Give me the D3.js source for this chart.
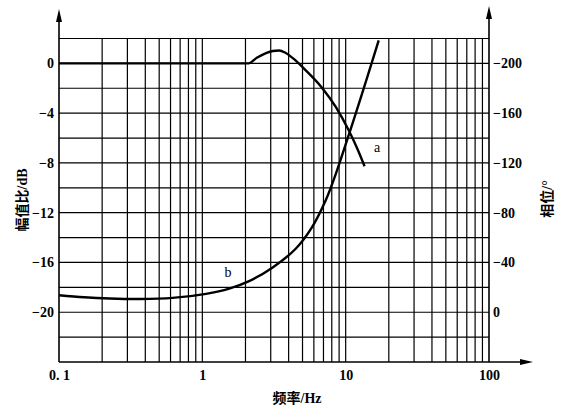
<!DOCTYPE html>
<html><head><meta charset="utf-8">
<script src="https://cdn.jsdelivr.net/npm/d3@7"></script>
<style>body{margin:0;background:#fff}svg{display:block}</style>
</head><body>
<svg id="c" width="574" height="416"></svg>
<script>
// ---- data ----
const freqA = [0.1, 1, 2.1, 2.4, 2.78, 3.1, 3.43, 3.8, 4.3, 5.27, 6.81, 8.53, 10.5, 12, 13.55];
const ampA  = [0,   0, 0,   0.45, 0.83, 1.0, 1.04, 0.85, 0.4, -0.56, -1.93, -3.5, -5.38, -6.8, -8.27];
const freqB  = [0.1, 0.15, 0.226, 0.366, 0.62, 1.06, 1.54, 2.12, 3.06, 4.48, 5.8, 7.26, 8.5, 10.5, 12.9, 17];
const phaseB = [-13.7, -12, -11, -10.6, -11.5, -14.8, -19, -25, -35.6, -51, -68, -90, -110.6, -142.4, -174.2, -218.5];
const xTicks = [0.1, 1, 10, 100];
const xTickLabels = ["0. 1", "1", "10", "100"];
const yLeftTicks = [0, -4, -8, -12, -16, -20];
const yRightTicks = [-200, -160, -120, -80, -40, 0];
const labels = {x: "频率/Hz", yLeft: "幅值比/dB", yRight: "相位/°"};

// ---- scales ----
const svg = d3.select("#c");
const x = d3.scaleLog().domain([0.1, 100]).range([59, 489]);
const y = d3.scaleLinear().domain([-24, 2]).range([362, 38.5]);
const yR = d3.scaleLinear().domain([0, -200]).range([y(-20), y(0)]);

const numFont = "'Liberation Serif', 'Times New Roman', serif";
const cjkFont = "'Liberation Serif', 'Noto Sans CJK SC', serif";

// ---- grid ----
const g = svg.append("g").attr("stroke", "#000").attr("stroke-width", 1.2);
const vLines = [];
[-1, 0, 1].forEach(k => { for (let m = 1; m <= 9; m++) vLines.push(m * Math.pow(10, k)); });
vLines.filter(f => f > 0.1).forEach(f => {
  g.append("line").attr("x1", x(f)).attr("x2", x(f)).attr("y1", y(-24)).attr("y2", y(2));
});
d3.range(-22, 3, 2).forEach(v => {
  g.append("line").attr("x1", x(0.1)).attr("x2", x(100)).attr("y1", y(v)).attr("y2", y(v));
});

// ---- axes lines with arrows ----
const ax = svg.append("g").attr("stroke", "#000").attr("stroke-width", 1.6);
ax.append("line").attr("x1", x(0.1)).attr("x2", x(0.1)).attr("y1", y(-24)).attr("y2", 16);
ax.append("line").attr("x1", x(100)).attr("x2", x(100)).attr("y1", y(-24)).attr("y2", 13);
ax.append("line").attr("x1", x(0.1)).attr("x2", 526).attr("y1", y(-24)).attr("y2", y(-24));
const arr = svg.append("g").attr("fill", "#000");
arr.append("path").attr("d", `M${x(0.1)},9 L${x(0.1)-3},22 L${x(0.1)+3},22 Z`);
arr.append("path").attr("d", `M${x(100)},6 L${x(100)-3},19 L${x(100)+3},19 Z`);
arr.append("path").attr("d", `M533,${y(-24)} L520,${y(-24)-3} L520,${y(-24)+3} Z`);

// ---- tick labels via d3 axes ----
function styleAxis(sel) {
  sel.select(".domain").remove();
  sel.selectAll(".tick line").remove();
  sel.selectAll("text").attr("font-family", numFont).attr("font-size", 14)
     .attr("font-weight", "bold").attr("fill", "#000");
}
svg.append("g").attr("transform", `translate(${x(0.1)},0)`)
  .call(d3.axisLeft(y).tickValues(yLeftTicks).tickSize(0).tickPadding(5)).call(styleAxis);
svg.append("g").attr("transform", `translate(${x(100)},0)`)
  .call(d3.axisRight(yR).tickValues(yRightTicks).tickSize(0).tickPadding(4)).call(styleAxis);
svg.append("g").attr("transform", `translate(0,${y(-24)})`)
  .call(d3.axisBottom(x).tickValues(xTicks).tickSize(0).tickPadding(8)
        .tickFormat((d, i) => xTickLabels[i])).call(styleAxis);

// ---- titles ----
svg.append("text").attr("x", 297).attr("y", 403).attr("text-anchor", "middle")
  .attr("font-family", cjkFont).attr("font-size", 14).attr("font-weight", "bold").text(labels.x);
svg.append("text").attr("transform", "translate(27,200) rotate(-90)").attr("text-anchor", "middle")
  .attr("font-family", cjkFont).attr("font-size", 14).attr("font-weight", "bold").text(labels.yLeft);
svg.append("text").attr("transform", "translate(552,199) rotate(-90)").attr("text-anchor", "middle")
  .attr("font-family", cjkFont).attr("font-size", 14).attr("font-weight", "bold").text(labels.yRight);

// ---- curves ----
const lineA = d3.line().x(d => x(d[0])).y(d => y(d[1])).curve(d3.curveMonotoneX);
const lineB = d3.line().x(d => x(d[0])).y(d => yR(d[1])).curve(d3.curveCatmullRom.alpha(0.5));
svg.append("path").attr("d", lineA(freqA.map((f, i) => [f, ampA[i]])))
  .attr("fill", "none").attr("stroke", "#000").attr("stroke-width", 2.4);
svg.append("path").attr("d", lineB(freqB.map((f, i) => [f, phaseB[i]])))
  .attr("fill", "none").attr("stroke", "#000").attr("stroke-width", 2.4);

svg.append("text").attr("x", 377).attr("y", 152).attr("text-anchor", "middle")
  .attr("font-family", numFont).attr("font-size", 14).attr("fill", "#000").text("a");
svg.append("text").attr("x", 228).attr("y", 277).attr("text-anchor", "middle")
  .attr("font-family", numFont).attr("font-size", 14).attr("fill", "#000").text("b");
</script>
</body></html>
